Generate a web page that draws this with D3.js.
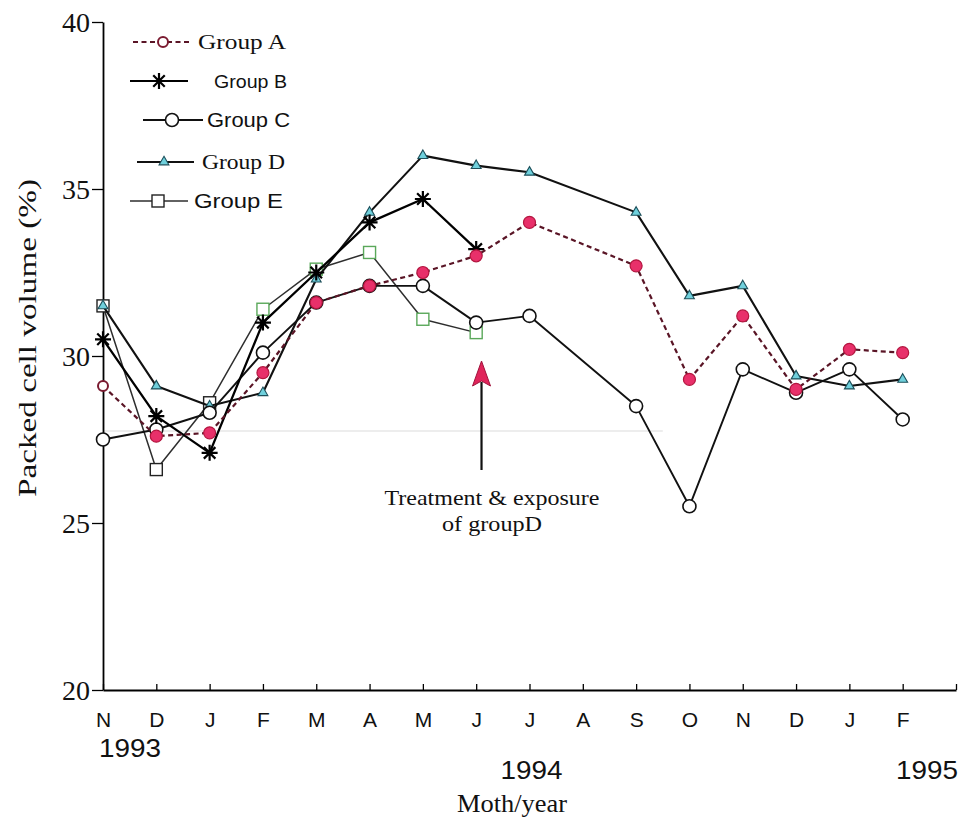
<!DOCTYPE html>
<html>
<head>
<meta charset="utf-8">
<script src="https://cdn.jsdelivr.net/npm/d3@7"></script>
<style>
  body { margin: 0; background: #fff; }
  svg { display: block; }
</style>
</head>
<body>
<svg id="chart" width="965" height="826"></svg>
<script>
// Month of sampling, Nov 1993 to Feb 1995
const months = ["N", "D", "J", "F", "M", "A", "M", "J", "J", "A", "S", "O", "N", "D", "J", "F"];
const years = ["1993", "1994", "1995"];
const yTicks = [20, 25, 30, 35, 40];

// Packed cell volume (%) per group; null = not sampled that month
const groupA = [29.1, 27.6, 27.7, 29.5, 31.6, 32.1, 32.5, 33.0, 34.0, null, 32.7, 29.3, 31.2, 29.0, 30.2, 30.1];
const groupB = [30.5, 28.2, 27.1, 31.0, 32.5, 34.0, 34.7, 33.2, null, null, null, null, null, null, null, null];
const groupC = [27.5, 27.8, 28.3, 30.1, 31.6, 32.1, 32.1, 31.0, 31.2, null, 28.5, 25.5, 29.6, 28.9, 29.6, 28.1];
const groupD = [31.5, 29.1, 28.5, 28.9, 32.3, 34.3, 36.0, 35.7, 35.5, null, 34.3, 31.8, 32.1, 29.4, 29.1, 29.3];
const groupE = [31.5, 26.6, 28.6, 31.4, 32.6, 33.1, 31.1, 30.7, null, null, null, null, null, null, null, null];

const seriesNames = ["Group A", "Group B", "Group C", "Group D", "Group E"];
const annotation = ["Treatment & exposure", "of groupD"];

const SERIF = "'Liberation Serif', 'Times New Roman', serif";
const SANS = "'Liberation Sans', Arial, sans-serif";

const svg = d3.select("#chart");
const x = d3.scaleLinear().domain([0, 16]).range([103, 956]);
const y = d3.scaleLinear().domain([20, 40]).range([690, 22]);

// faint rule left over on the printed page
svg.append("line")
  .attr("x1", x(0) + 1).attr("x2", x(10.5)).attr("y1", 431).attr("y2", 431)
  .attr("stroke", "#dcdcdc").attr("stroke-width", 1.2);

// ---- axes ----
const yAxis = svg.append("g")
  .attr("transform", `translate(${x(0)},0)`)
  .call(d3.axisLeft(y).tickValues(yTicks).tickSize(11).tickSizeOuter(0).tickPadding(2).tickFormat(d3.format("d")));
yAxis.select(".domain").attr("stroke", "#000").attr("stroke-width", 1.8);
yAxis.selectAll(".tick line").attr("stroke", "#000").attr("stroke-width", 1.3);
yAxis.selectAll(".tick text")
  .attr("font-family", SERIF).attr("font-size", 28).attr("fill", "#111").attr("dy", "0.34em");

const xAxis = svg.append("g")
  .attr("transform", `translate(0,${y(20)})`)
  .call(d3.axisBottom(x).tickValues(d3.range(17)).tickSize(-6).tickSizeOuter(0).tickPadding(22)
    .tickFormat(i => months[i] || ""));
xAxis.select(".domain").attr("stroke", "#000").attr("stroke-width", 1.8);
xAxis.selectAll(".tick line").attr("stroke", "#000").attr("stroke-width", 1.3);
xAxis.selectAll(".tick text")
  .attr("font-family", SANS).attr("font-size", 21).attr("fill", "#111");

// year labels under the month letters
const yearPlace = [
  { at: 0, anchor: "start", dx: -4, base: 757 },
  { at: 8, anchor: "middle", dx: 2, base: 779 },
  { at: 16, anchor: "end", dx: 2, base: 779 }
];
svg.append("g").selectAll("text").data(years).join("text")
  .attr("x", (d, i) => x(yearPlace[i].at) + yearPlace[i].dx)
  .attr("y", (d, i) => yearPlace[i].base)
  .attr("text-anchor", (d, i) => yearPlace[i].anchor)
  .attr("font-family", SANS).attr("font-size", 25).attr("fill", "#111")
  .attr("textLength", 62).attr("lengthAdjust", "spacingAndGlyphs")
  .text(d => d);

// axis titles
svg.append("text")
  .attr("x", 512).attr("y", 812).attr("text-anchor", "middle")
  .attr("font-family", SERIF).attr("font-size", 26).attr("fill", "#111")
  .attr("textLength", 110).attr("lengthAdjust", "spacingAndGlyphs")
  .text("Moth/year");
svg.append("text")
  .attr("transform", "translate(36,338) rotate(-90)")
  .attr("text-anchor", "middle")
  .attr("font-family", SERIF).attr("font-size", 26).attr("fill", "#111")
  .attr("textLength", 318).attr("lengthAdjust", "spacingAndGlyphs")
  .text("Packed cell volume (%)");

// ---- marker painters ----
function asteriskPath(r) {
  const a = r * 0.72;
  return `M0,${-r}L0,${r}M${-r},0L${r},0M${-a},${-a}L${a},${a}M${-a},${a}L${a},${-a}`;
}
const markers = {
  A: (g, i) => g.append("circle").attr("r", i === 0 ? 5 : 6)
      .attr("fill", i === 0 ? "#fff" : "#e8306a")
      .attr("stroke", i === 0 ? "#7a1a30" : "#b3163f").attr("stroke-width", i === 0 ? 2 : 1.2),
  B: g => g.append("path").attr("d", asteriskPath(8)).attr("stroke", "#000").attr("stroke-width", 2.2).attr("fill", "none"),
  C: g => g.append("circle").attr("r", 6.5).attr("fill", "#fff").attr("stroke", "#111").attr("stroke-width", 1.6),
  D: g => g.append("path").attr("d", d3.symbol(d3.symbolTriangle, 42)())
      .attr("fill", "#6fd0dc").attr("stroke", "#1d4f5a").attr("stroke-width", 1.1),
  E: (g, i) => g.append("rect").attr("x", -6).attr("y", -6).attr("width", 12).attr("height", 12)
      .attr("fill", "#fff").attr("stroke", i < 3 ? "#222" : "#5aa85a").attr("stroke-width", 1.4)
};
const lineStyle = {
  A: { stroke: "#5a1526", width: 2.2, dash: "5,3.5" },
  B: { stroke: "#000", width: 2.3, dash: null },
  C: { stroke: "#111", width: 1.9, dash: null },
  D: { stroke: "#111", width: 2.1, dash: null },
  E: { stroke: "#2e2e2e", width: 1.5, dash: null }
};

// ---- series ----
const series = [
  { key: "E", values: groupE },
  { key: "D", values: groupD },
  { key: "C", values: groupC },
  { key: "B", values: groupB },
  { key: "A", values: groupA }
];
const line = d3.line().x(d => x(d.i)).y(d => y(d.v));

series.forEach(s => {
  const pts = s.values.map((v, i) => ({ i, v })).filter(d => d.v != null);
  const st = lineStyle[s.key];
  const g = svg.append("g");
  g.append("path").datum(pts)
    .attr("d", line).attr("fill", "none")
    .attr("stroke", st.stroke).attr("stroke-width", st.width)
    .attr("stroke-dasharray", st.dash)
    .attr("stroke-linejoin", "round");
  pts.forEach(d => {
    const m = g.append("g").attr("transform", `translate(${x(d.i)},${y(d.v)})`);
    markers[s.key](m, d.i);
  });
});

// ---- legend ----
const legendRows = [
  { key: "A", y: 42, x1: 133, x2: 190, mx: 163, tx: 198, font: SERIF, size: 22, len: 88 },
  { key: "B", y: 81, x1: 130, x2: 188, mx: 159, tx: 214, font: SANS, size: 19, len: 73 },
  { key: "C", y: 120, x1: 143, x2: 203, mx: 172, tx: 207, font: SANS, size: 21, len: 83 },
  { key: "D", y: 162, x1: 137, x2: 194, mx: 164, tx: 202, font: SERIF, size: 21, len: 83 },
  { key: "E", y: 201, x1: 130, x2: 188, mx: 158, tx: 194, font: SANS, size: 21, len: 89 }
];
const legend = svg.append("g");
legendRows.forEach((r, k) => {
  const st = lineStyle[r.key];
  legend.append("line")
    .attr("x1", r.x1).attr("x2", r.x2).attr("y1", r.y).attr("y2", r.y)
    .attr("stroke", st.stroke).attr("stroke-width", Math.min(st.width, 1.8))
    .attr("stroke-dasharray", st.dash);
  const m = legend.append("g").attr("transform", `translate(${r.mx},${r.y})`);
  markers[r.key](m, r.key === "A" ? 0 : 0);
  legend.append("text")
    .attr("x", r.tx).attr("y", r.y + 7)
    .attr("font-family", r.font).attr("font-size", r.size).attr("fill", "#111")
    .attr("textLength", r.len).attr("lengthAdjust", "spacingAndGlyphs")
    .text(seriesNames[k]);
});

// ---- treatment annotation ----
const ax = x(7.1);
svg.append("line")
  .attr("x1", ax).attr("x2", ax).attr("y1", 470).attr("y2", 382)
  .attr("stroke", "#111").attr("stroke-width", 2.2);
svg.append("path")
  .attr("d", `M${ax},361L${ax + 9},386L${ax},381L${ax - 9},386Z`)
  .attr("fill", "#e0245a").attr("stroke", "#a0143c").attr("stroke-width", 1);
svg.append("g").selectAll("text").data(annotation).join("text")
  .attr("x", 492).attr("y", (d, i) => 505 + i * 26)
  .attr("text-anchor", "middle")
  .attr("font-family", SERIF).attr("font-size", 21).attr("fill", "#111")
  .attr("textLength", (d, i) => i === 0 ? 215 : 100).attr("lengthAdjust", "spacingAndGlyphs")
  .text(d => d);
</script>
</body>
</html>
